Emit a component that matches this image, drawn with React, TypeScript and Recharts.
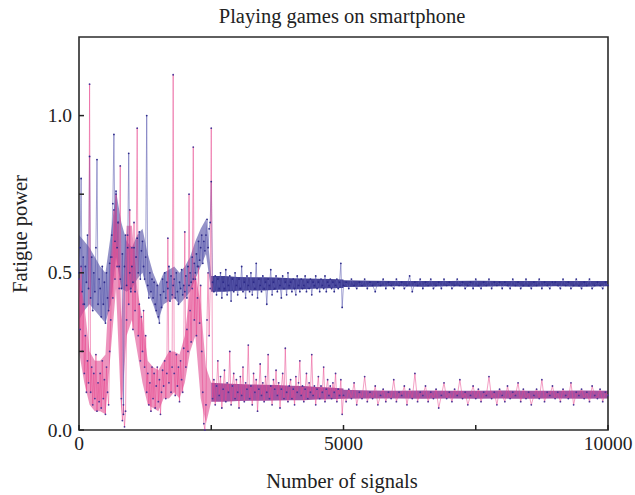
import { ComposedChart, Line, Area, XAxis, YAxis, ReferenceArea } from 'recharts';

// fatigue power per signal, read in three stretches with different sampling steps
const earlyStart = 0;
const earlyStep = 20;
const blueEarly = [
  0.50, 0.58, 0.80, 0.44, 0.55, 0.40, 0.52, 0.47, 0.62, 0.45,
  0.87, 0.42, 0.55, 0.38, 0.50, 0.44, 0.58, 0.86, 0.40, 0.48,
  0.45, 0.36, 0.52, 0.40, 0.47, 0.34, 0.50, 0.42, 0.38, 0.53,
  0.55, 0.62, 0.72, 0.94, 0.60, 0.76, 0.58, 0.66, 0.52, 0.48,
  0.45, 0.56, 0.05, 0.52, 0.62, 0.46, 0.58, 0.88, 0.50, 0.44,
  0.52, 0.47, 0.58, 0.44, 0.55, 0.61, 0.50, 0.63, 0.48, 0.57,
  0.60, 0.52, 0.48, 0.55, 1.00, 0.46, 0.42, 0.50, 0.44, 0.48,
  0.42, 0.47, 0.40, 0.38, 0.46, 0.36, 0.34, 0.43, 0.39, 0.48,
  0.44, 0.50, 0.42, 0.47, 0.45, 0.52, 0.41, 0.49, 0.43, 0.46,
  0.48, 0.42, 0.50, 0.44, 0.40, 0.47, 0.45, 0.51, 0.43, 0.46,
  0.44, 0.49, 0.42, 0.52, 0.46, 0.50, 0.47, 0.55, 0.48, 0.53,
  0.50, 0.56, 0.52, 0.60, 0.54, 0.58, 0.62, 0.53, 0.60, 0.57,
  0.62, 0.67, 0.58, 0.64, 0.66,
];
const pinkEarly = [
  0.48, 0.32, 0.52, 0.25, 0.40, 0.18, 0.30, 0.12, 0.22, 0.15,
  1.10, 0.12, 0.20, 0.08, 0.18, 0.10, 0.24, 0.06, 0.15, 0.09,
  0.18, 0.07, 0.22, 0.10, 0.16, 0.05, 0.20, 0.12, 0.08, 0.25,
  0.35, 0.55, 0.42, 0.70, 0.48, 0.75, 0.52, 0.66, 0.45, 0.84,
  0.10, 0.03, 0.08, 0.01, 0.06, 0.35, 0.62, 0.40, 0.70, 0.45,
  0.58, 0.32, 0.66, 0.38, 0.55, 0.96, 0.30, 0.40, 0.22, 0.36,
  0.25, 0.38, 0.20, 0.30, 0.12, 0.18, 0.08, 0.15, 0.06, 0.20,
  0.10, 0.18, 0.07, 0.14, 0.20, 0.09, 0.16, 0.05, 0.12, 0.19,
  0.14, 0.22, 0.10, 0.18, 0.61, 0.15, 0.25, 0.12, 0.20, 1.13,
  0.18, 0.11, 0.24, 0.14, 0.20, 0.09, 0.22, 0.16, 0.12, 0.26,
  0.63, 0.20, 0.32, 0.25, 0.75, 0.38, 0.28, 0.45, 0.90, 0.35,
  0.48, 0.30, 0.42, 0.52, 0.34, 0.46, 0.25, 0.12, 0.02, 0.00,
  0.08, 0.35, 0.50, 0.30, 0.45,
];

const midStart = 2500;
const midStep = 25;
const blueMid = [
  0.79, 0.47, 0.44, 0.49, 0.43, 0.48, 0.45, 0.50, 0.42, 0.47,
  0.45, 0.51, 0.43, 0.46, 0.49, 0.41, 0.48, 0.44, 0.50, 0.46,
  0.43, 0.48, 0.45, 0.52, 0.44, 0.47, 0.42, 0.49, 0.46, 0.44,
  0.50, 0.43, 0.47, 0.45, 0.53, 0.42, 0.48, 0.46, 0.44, 0.49,
  0.45, 0.47, 0.40, 0.48, 0.46, 0.51, 0.43, 0.47, 0.45, 0.49,
  0.44, 0.48, 0.46, 0.42, 0.49, 0.45, 0.47, 0.43, 0.50, 0.46,
  0.47, 0.44, 0.48, 0.45, 0.43, 0.49, 0.46, 0.44, 0.48, 0.45,
  0.46, 0.49, 0.44, 0.47, 0.45, 0.48, 0.43, 0.47, 0.46, 0.49,
  0.45, 0.47, 0.44, 0.48, 0.46, 0.45, 0.49, 0.44, 0.47, 0.46,
  0.48, 0.45, 0.47, 0.44, 0.46, 0.48, 0.45, 0.47, 0.53, 0.39,
];
const pinkMid = [
  0.96, 0.10, 0.16, 0.08, 0.14, 0.22, 0.11, 0.17, 0.07, 0.13,
  0.19, 0.09, 0.15, 0.12, 0.25, 0.08, 0.14, 0.18, 0.10, 0.16,
  0.12, 0.07, 0.17, 0.11, 0.20, 0.09, 0.15, 0.13, 0.27, 0.10,
  0.14, 0.08, 0.18, 0.12, 0.16, 0.06, 0.13, 0.21, 0.11, 0.15,
  0.09, 0.17, 0.12, 0.24, 0.10, 0.14, 0.08, 0.16, 0.13, 0.19,
  0.11, 0.15, 0.07, 0.13, 0.18, 0.10, 0.26, 0.12, 0.09, 0.14,
  0.16, 0.10, 0.13, 0.08, 0.17, 0.12, 0.15, 0.22, 0.11, 0.14,
  0.09, 0.13, 0.18, 0.10, 0.15, 0.12, 0.24, 0.11, 0.14, 0.08,
  0.13, 0.17, 0.10, 0.14, 0.12, 0.20, 0.09, 0.13, 0.16, 0.11,
  0.14, 0.10, 0.15, 0.12, 0.18, 0.09, 0.13, 0.11, 0.16, 0.05,
];

const lateStart = 5000;
const lateStep = 50;
const blueLate = [
  0.46, 0.47, 0.45, 0.48, 0.46, 0.45, 0.47, 0.46, 0.48, 0.45,
  0.47, 0.46, 0.44, 0.47, 0.46, 0.48, 0.45, 0.47, 0.46, 0.45,
  0.48, 0.46, 0.47, 0.45, 0.46, 0.49, 0.44, 0.47, 0.46, 0.48,
  0.45, 0.47, 0.46, 0.48, 0.45, 0.46, 0.47, 0.45, 0.48, 0.46,
  0.47, 0.45, 0.46, 0.48, 0.46, 0.47, 0.45, 0.46, 0.47, 0.45,
  0.48, 0.46, 0.45, 0.47, 0.46, 0.48, 0.45, 0.47, 0.46, 0.47,
  0.45, 0.47, 0.46, 0.45, 0.48, 0.46, 0.47, 0.45, 0.46, 0.48,
  0.46, 0.45, 0.47, 0.46, 0.48, 0.45, 0.47, 0.46, 0.45, 0.47,
  0.47, 0.46, 0.45, 0.48, 0.46, 0.47, 0.45, 0.46, 0.48, 0.46,
  0.45, 0.47, 0.46, 0.48, 0.45, 0.46, 0.47, 0.46, 0.45, 0.47,
  0.46,
];
const pinkLate = [
  0.11, 0.09, 0.13, 0.10, 0.15, 0.08, 0.12, 0.10, 0.17, 0.09,
  0.12, 0.10, 0.14, 0.08, 0.11, 0.13, 0.09, 0.12, 0.10, 0.16,
  0.09, 0.12, 0.11, 0.14, 0.08, 0.13, 0.10, 0.18, 0.09, 0.12,
  0.11, 0.14, 0.09, 0.12, 0.10, 0.13, 0.07, 0.11, 0.15, 0.10,
  0.12, 0.09, 0.13, 0.11, 0.16, 0.10, 0.12, 0.08, 0.11, 0.14,
  0.10, 0.13, 0.09, 0.12, 0.11, 0.17, 0.10, 0.12, 0.08, 0.13,
  0.11, 0.09, 0.14, 0.10, 0.12, 0.11, 0.15, 0.09, 0.13, 0.10,
  0.12, 0.08, 0.11, 0.13, 0.10, 0.16, 0.09, 0.12, 0.11, 0.14,
  0.10, 0.12, 0.09, 0.13, 0.11, 0.10, 0.15, 0.08, 0.12, 0.11,
  0.13, 0.10, 0.12, 0.09, 0.14, 0.11, 0.10, 0.13, 0.09, 0.12,
  0.11,
];

// dense spread of each trace ([low, high]), read every 100 / 250 / 500 signals
const bandEarlyStep = 100;
const blueBandEarly = [
  [0.35, 0.62], [0.38, 0.60], [0.40, 0.58], [0.38, 0.55], [0.36, 0.52],
  [0.34, 0.50], [0.40, 0.62], [0.55, 0.76], [0.45, 0.66], [0.44, 0.60],
  [0.45, 0.58], [0.48, 0.62], [0.50, 0.64], [0.44, 0.56], [0.40, 0.50],
  [0.35, 0.46], [0.40, 0.50], [0.41, 0.51], [0.42, 0.52], [0.40, 0.50],
  [0.42, 0.52], [0.44, 0.55], [0.48, 0.60], [0.52, 0.64], [0.56, 0.67],
  [0.44, 0.49],
];
const pinkBandEarly = [
  [0.25, 0.50], [0.15, 0.40], [0.08, 0.25], [0.06, 0.22], [0.06, 0.22],
  [0.05, 0.24], [0.25, 0.55], [0.45, 0.72], [0.05, 0.35], [0.30, 0.65],
  [0.35, 0.65], [0.25, 0.45], [0.15, 0.35], [0.08, 0.22], [0.07, 0.20],
  [0.06, 0.19], [0.10, 0.22], [0.10, 0.25], [0.12, 0.25], [0.10, 0.24],
  [0.15, 0.30], [0.25, 0.45], [0.30, 0.50], [0.10, 0.40], [0.02, 0.20],
  [0.09, 0.15],
];
const bandMidStep = 250;
const blueBandMid = [
  [0.44, 0.49], [0.44, 0.49], [0.443, 0.487], [0.444, 0.486], [0.444, 0.486], [0.446, 0.485],
  [0.447, 0.483], [0.448, 0.482], [0.45, 0.481], [0.451, 0.48], [0.452, 0.479],
];
const pinkBandMid = [
  [0.09, 0.15], [0.09, 0.148], [0.092, 0.146], [0.093, 0.145], [0.093, 0.144], [0.094, 0.143],
  [0.095, 0.141], [0.095, 0.14], [0.097, 0.137], [0.098, 0.135], [0.099, 0.132],
];
const bandLateStep = 500;
const blueBandLate = [
  [0.455, 0.476], [0.456, 0.475], [0.457, 0.474], [0.456, 0.474], [0.457, 0.474], [0.456, 0.475],
  [0.457, 0.474], [0.456, 0.474], [0.457, 0.474], [0.456, 0.474], [0.457, 0.474],
];
const pinkBandLate = [
  [0.099, 0.128], [0.1, 0.126], [0.1, 0.125], [0.099, 0.126], [0.1, 0.125], [0.099, 0.125],
  [0.1, 0.126], [0.099, 0.125], [0.1, 0.125], [0.099, 0.126], [0.1, 0.125],
];

const xTicks = [0, 2500, 5000, 7500, 10000];
const xLabels = ['0', '', '5000', '', '10000'];
const yTicks = [0, 0.25, 0.5, 0.75, 1.0];
const yLabels = ['0.0', '', '0.5', '', '1.0'];

function segment(start: number, step: number, blue: number[], pink: number[]) {
  return blue.map((b, i) => ({ n: start + i * step, blue: b, pink: pink[i] }));
}

function band(start: number, step: number, rows: number[][]) {
  return rows.map((r, i) => ({ n: start + i * step, range: r }));
}

const data = [
  ...segment(earlyStart, earlyStep, blueEarly, pinkEarly),
  ...segment(midStart, midStep, blueMid, pinkMid),
  ...segment(lateStart, lateStep, blueLate, pinkLate),
];

const blueCore = [...band(midStart, bandMidStep, blueBandMid), ...band(lateStart, bandLateStep, blueBandLate)];
const pinkCore = [...band(midStart, bandMidStep, pinkBandMid), ...band(lateStart, bandLateStep, pinkBandLate)];

const FONT = '"Liberation Serif", "DejaVu Serif", serif';
const TICK_LEN = 5;

function XTick(props: any) {
  const { x, y, payload } = props;
  const label = xLabels[xTicks.indexOf(payload.value)];
  return (
    <g>
      <line x1={x} x2={x} y1={y} y2={y - TICK_LEN} stroke="#222" strokeWidth={1.5} />
      <text x={x} y={y + 20} textAnchor="middle" fontSize={19.5} fill="#222" fontFamily={FONT}>
        {label}
      </text>
    </g>
  );
}

function YTick(props: any) {
  const { x, y, payload } = props;
  const label = yLabels[yTicks.indexOf(payload.value)];
  return (
    <g>
      <line x1={x} x2={x + TICK_LEN} y1={y} y2={y} stroke="#222" strokeWidth={1.5} />
      <text x={x - 7} y={y + 6.5} textAnchor="end" fontSize={19.5} fill="#222" fontFamily={FONT}>
        {label}
      </text>
    </g>
  );
}

export default function App() {
  return (
    <div style={{ position: 'absolute', left: 0, top: 0, width: 635, height: 495, background: '#fff' }}>
      <svg width={635} height={495} style={{ position: 'absolute', left: 0, top: 0 }}>
        <text x={342} y={23} textAnchor="middle" fontSize={20.5} fill="#222" fontFamily={FONT}>
          Playing games on smartphone
        </text>
        <text x={342} y={488} textAnchor="middle" fontSize={20.5} fill="#222" fontFamily={FONT}>
          Number of signals
        </text>
        <text
          x={22}
          y={234}
          textAnchor="middle"
          fontSize={20.5}
          fill="#222"
          fontFamily={FONT}
          transform="rotate(-90 22 234)"
          dominantBaseline="middle"
        >
          Fatigue power
        </text>
      </svg>
      <div style={{ position: 'absolute', left: 0, top: 0 }}>
        <ComposedChart width={635} height={495} data={data} margin={{ top: 37, right: 27, left: 0, bottom: 0 }}>
          <XAxis
            dataKey="n"
            type="number"
            domain={[0, 10000]}
            ticks={xTicks}
            height={65}
            axisLine={false}
            tickLine={false}
            tickSize={0}
            tickMargin={0}
            tick={<XTick />}
            interval={0}
            allowDuplicatedCategory={false}
          />
          <YAxis
            type="number"
            domain={[0, 1.25]}
            ticks={yTicks}
            width={79}
            axisLine={false}
            tickLine={false}
            tickSize={0}
            tickMargin={0}
            tick={<YTick />}
            interval={0}
          />
          <Area
            data={band(earlyStart, bandEarlyStep, blueBandEarly)}
            dataKey="range"
            type="linear"
            stroke="none"
            fill="#4d4aa3"
            fillOpacity={0.6}
            isAnimationActive={false}
          />
          <Area
            data={blueCore}
            dataKey="range"
            type="linear"
            stroke="none"
            fill="#33318d"
            fillOpacity={0.92}
            isAnimationActive={false}
          />
          <Line
            type="linear"
            dataKey="blue"
            stroke="#5b5bb0"
            strokeWidth={0.7}
            strokeOpacity={0.8}
            dot={{ r: 0.9, fill: '#2c2a8a', stroke: 'none' }}
            activeDot={false}
            isAnimationActive={false}
          />
          <Area
            data={band(earlyStart, bandEarlyStep, pinkBandEarly)}
            dataKey="range"
            type="linear"
            stroke="none"
            fill="#de3d88"
            fillOpacity={0.55}
            isAnimationActive={false}
          />
          <Area
            data={pinkCore}
            dataKey="range"
            type="linear"
            stroke="none"
            fill="#933593"
            fillOpacity={0.85}
            isAnimationActive={false}
          />
          <Line
            type="linear"
            dataKey="pink"
            stroke="#e8478d"
            strokeWidth={0.7}
            strokeOpacity={0.75}
            dot={{ r: 0.9, fill: '#4a3596', stroke: 'none' }}
            activeDot={false}
            isAnimationActive={false}
          />
          <ReferenceArea x1={0} x2={10000} y1={0} y2={1.25} fill="none" stroke="#2b2b2b" strokeWidth={1.6} />
        </ComposedChart>
      </div>
    </div>
  );
}
